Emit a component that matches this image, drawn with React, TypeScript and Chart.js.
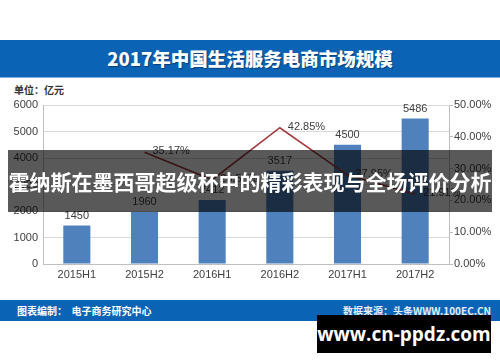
import React, { useEffect, useRef } from "react";
import { Chart, registerables } from "chart.js";

Chart.register(...registerables);

const categories = ["2015H1", "2015H2", "2016H1", "2016H2", "2017H1", "2017H2"];
const marketSize = [1450, 1960, 2412, 3517, 4500, 5486];
const growthRate: (number | null)[] = [null, 35.17, 26.5, 42.85, 27.95, 21.91];

const titleText = "2017年中国生活服务电商市场规模";
const unitText = "单位：亿元";
const footerLeft = "图表编制：  电子商务研究中心";
const footerRight = "数据来源：头条WWW.100EC.CN";
const overlayText = "霍纳斯在墨西哥超级杯中的精彩表现与全场评价分析";
const watermarkText = "www.cn-ppdz.com";

const FONT = "'Liberation Sans', 'DejaVu Sans', sans-serif";
const CJK = "'Noto Sans CJK SC', 'Noto Sans', sans-serif";

const labelPlugin = {
  id: "valueLabels",
  afterDatasetsDraw(chart: any) {
    const ctx = chart.ctx;
    ctx.save();
    ctx.font = `11px ${FONT}`;
    ctx.fillStyle = "#404040";
    chart.data.datasets.forEach((ds: any, di: number) => {
      const meta = chart.getDatasetMeta(di);
      meta.data.forEach((el: any, i: number) => {
        const v = ds.data[i];
        if (v === null || v === undefined) return;
        if (ds.type === "bar") {
          ctx.textAlign = "center";
          ctx.textBaseline = "middle";
          ctx.fillText(String(v), el.x, el.y - 10);
        } else {
          ctx.textAlign = "left";
          ctx.textBaseline = "middle";
          ctx.fillText(v.toFixed(2) + "%", el.x + 8, el.y - 1);
        }
      });
    });
    ctx.restore();
  },
};

function ChartBox() {
  const ref = useRef<HTMLCanvasElement | null>(null);
  useEffect(() => {
    if (!ref.current) return;
    const chart = new Chart(ref.current, {
      type: "bar",
      data: {
        labels: categories,
        datasets: [
          {
            type: "line",
            label: "增长率",
            data: growthRate,
            yAxisID: "y1",
            borderColor: "#a33a3d",
            backgroundColor: "#a33a3d",
            borderWidth: 1.6,
            pointRadius: 0,
            tension: 0,
            spanGaps: false,
            order: 0,
          } as any,
          {
            type: "bar",
            label: "市场规模",
            data: marketSize,
            yAxisID: "y",
            backgroundColor: "#4f81bd",
            barPercentage: 0.8,
            categoryPercentage: 0.5,
            order: 1,
          } as any,
        ],
      },
      options: {
        animation: false,
        responsive: false,
        maintainAspectRatio: false,
        layout: { padding: { top: 23, left: 0, right: 0, bottom: 0 } },
        plugins: {
          legend: { display: false },
          tooltip: { enabled: false },
        },
        scales: {
          x: {
            offset: true,
            grid: { display: false, drawTicks: false },
            border: { display: true, color: "#bfbfbf", width: 1 },
            ticks: { color: "#404040", font: { size: 11, family: FONT }, padding: 4, maxRotation: 0 },
            afterFit: (s: any) => { s.height = 28; },
          },
          y: {
            position: "left",
            min: 0,
            max: 6000,
            ticks: {
              stepSize: 1000,
              color: "#404040",
              font: { size: 11, family: FONT },
              padding: 5,
              callback: (v: any) => String(v),
            },
            grid: { color: "#d9d9d9", drawTicks: false },
            border: { display: true, color: "#bfbfbf" },
            afterFit: (s: any) => { s.width = 43; },
          },
          y1: {
            position: "right",
            min: 0,
            max: 50,
            ticks: {
              stepSize: 5,
              color: "#404040",
              font: { size: 11, family: FONT },
              padding: 1,
              callback: (v: any) => Number(v).toFixed(2) + "%",
            },
            grid: { drawOnChartArea: false, drawTicks: true, tickLength: 4, color: "#bfbfbf" },
            border: { display: true, color: "#bfbfbf" },
            afterFit: (s: any) => { s.width = 51; },
          },
        },
      } as any,
      plugins: [labelPlugin],
    });
    return () => chart.destroy();
  }, []);
  return (
    <canvas
      ref={ref}
      width={500}
      height={210}
      style={{ position: "absolute", left: 0, top: 82, width: 500, height: 210 }}
    />
  );
}

export default function App() {
  return (
    <div
      style={{
        position: "fixed",
        left: 0,
        top: 0,
        width: 500,
        height: 362,
        background: "#ffffff",
        overflow: "hidden",
        fontFamily: CJK,
      }}
    >
      {/* Title band */}
      <div
        style={{
          position: "absolute",
          left: 0,
          top: 40,
          width: 500,
          height: 37,
          background: "#0b63b6",
          borderBottom: "1px solid #7fb0e0",
          color: "#fff",
          fontWeight: 900,
          fontSize: 18.5,
          lineHeight: "37px",
          textAlign: "center",
          textShadow: "1px 1px 1px rgba(0,0,0,0.35)",
        }}
      >
        {titleText}
      </div>
      <div
        style={{
          position: "absolute",
          left: 14,
          top: 83,
          fontSize: 10,
          fontWeight: 700,
          color: "#333",
          lineHeight: "14px",
        }}
      >
        {unitText}
      </div>
      <ChartBox />
      {/* Footer */}
      <div
        style={{
          position: "absolute",
          left: 0,
          top: 300,
          width: 500,
          height: 21,
          background: "#0b63b6",
          color: "#fff",
          fontSize: 10,
          fontWeight: 700,
          lineHeight: "21px",
        }}
      >
        <span style={{ position: "absolute", left: 17, whiteSpace: "pre" }}>{footerLeft}</span>
        <span style={{ position: "absolute", right: 9, color: "#e6eef8" }}>{footerRight}</span>
      </div>
      {/* Overlay band */}
      <div
        style={{
          position: "absolute",
          left: 8,
          top: 150,
          width: 484,
          height: 62,
          background: "rgba(0,0,0,0.65)",
          color: "#fff",
          fontSize: 21,
          fontWeight: 700,
          lineHeight: "62px",
          textAlign: "center",
          whiteSpace: "nowrap",
        }}
      >
        {overlayText}
      </div>
      {/* Watermark */}
      <div
        style={{
          position: "absolute",
          left: 317,
          top: 315,
          width: 174,
          height: 38,
          background: "#000",
          color: "#fff",
          fontFamily: "'Open Sans', 'DejaVu Sans', sans-serif",
          fontWeight: 700,
          fontSize: 19,
          lineHeight: "38px",
          textAlign: "center",
        }}
      >
        {watermarkText}
      </div>
    </div>
  );
}
